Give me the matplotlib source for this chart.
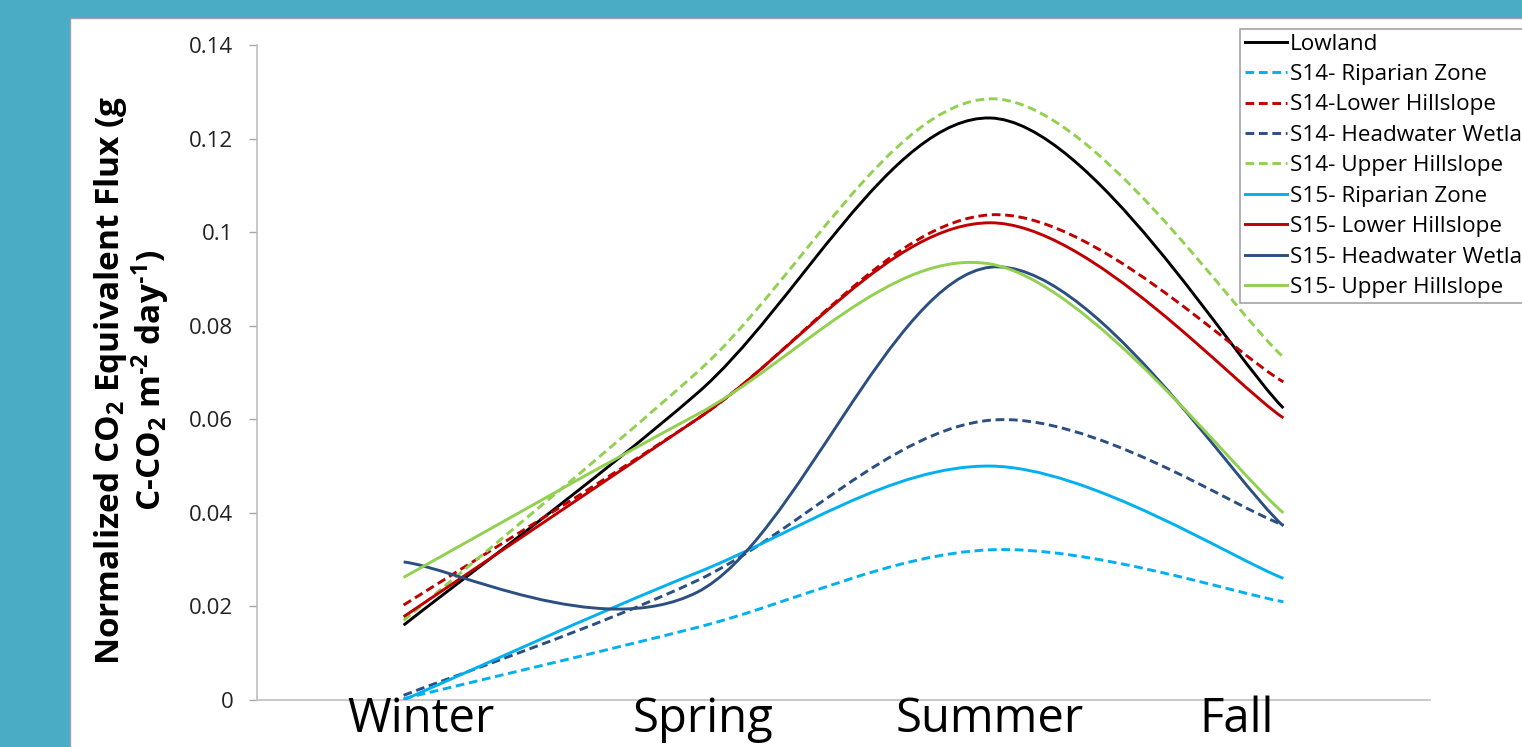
import numpy as np
import matplotlib
matplotlib.use("Agg")
import matplotlib.pyplot as plt
from matplotlib.path import Path
from matplotlib.patches import PathPatch, Rectangle
from matplotlib.lines import Line2D

plt.rcParams['font.family'] = ['Open Sans', 'DejaVu Sans']
plt.rcParams['mathtext.fontset'] = 'custom'
plt.rcParams['mathtext.rm'] = 'Open Sans'
plt.rcParams['mathtext.bf'] = 'Open Sans:bold'

# data
seasons = ['Winter', 'Spring', 'Summer', 'Fall']
lowland = [0.0160, 0.0655, 0.1244, 0.0624]
s14_riparian = [0.0003, 0.0155, 0.0321, 0.0210]
s14_lower = [0.0203, 0.0600, 0.1037, 0.0680]
s14_headwater = [0.0010, 0.0255, 0.0598, 0.0374]
s14_upper = [0.0170, 0.0700, 0.1285, 0.0733]
s15_riparian = [0.0000, 0.0272, 0.0500, 0.0260]
s15_lower = [0.0178, 0.0600, 0.1020, 0.0603]
s15_headwater = [0.0295, 0.0230, 0.0925, 0.0372]
s15_upper = [0.0262, 0.0610, 0.0932, 0.0400]

dash = (0, (3, 1.6))
series = [
    ('Lowland', lowland, 'black', '-'),
    ('S14- Riparian Zone', s14_riparian, '#00B0F0', dash),
    ('S14-Lower Hillslope', s14_lower, '#C00000', dash),
    ('S14- Headwater Wetland', s14_headwater, '#2B4F81', dash),
    ('S14- Upper Hillslope', s14_upper, '#92D050', dash),
    ('S15- Riparian Zone', s15_riparian, '#00B0F0', '-'),
    ('S15- Lower Hillslope', s15_lower, '#C00000', '-'),
    ('S15- Headwater Wetland', s15_headwater, '#2B4F81', '-'),
    ('S15- Upper Hillslope', s15_upper, '#92D050', '-'),
]


def smooth_path(xs, ys):
    # Excel-style smoothed line: cubic Bezier segments through the points
    p = np.column_stack([xs, ys])
    n = len(p)
    verts = [p[0]]
    codes = [Path.MOVETO]
    for i in range(n - 1):
        prev = p[max(i - 1, 0)]
        nxt = p[min(i + 2, n - 1)]
        c1 = p[i] + (p[i + 1] - prev) / 6
        c2 = p[i + 1] - (nxt - p[i]) / 6
        verts += [c1, c2, p[i + 1]]
        codes += [Path.CURVE4] * 3
    return Path(verts, codes)


W, H = 1522, 747
fig = plt.figure(figsize=(W / 100, H / 100), dpi=100)
fig.patch.set_facecolor('#4BACC6')
fig.patches.append(Rectangle((70 / W, -0.05), 1.0, 1 - 18 / H + 0.05,
                             transform=fig.transFigure, facecolor='white',
                             edgecolor='#A0A0A0', lw=1, zorder=-5))

ax = fig.add_axes([257 / W, 1 - 700 / H, (1430 - 257) / W, (700 - 45) / H])
ax.set_facecolor('none')
ax.set_zorder(2)

xpos = np.arange(len(seasons)) + 0.5
handles = []
for name, vals, color, ls in series:
    patch = PathPatch(smooth_path(xpos, vals), fill=False, edgecolor=color,
                      lw=2.1, linestyle=ls, capstyle='butt', zorder=3)
    ax.add_patch(patch)
    handles.append(Line2D([], [], color=color, lw=2.1, linestyle=ls))

ax.set_xlim(0, 4)
ax.set_ylim(0, 0.14)
ax.set_yticks(np.arange(0, 0.141, 0.02))
ax.set_yticklabels(['0', '0.02', '0.04', '0.06', '0.08', '0.1', '0.12', '0.14'])
ax.tick_params(axis='y', length=6, width=1, color='#A6A6A6', pad=11,
               labelsize=16, labelcolor='#222222')
ax.set_xticks([])
for s in ['top', 'right']:
    ax.spines[s].set_visible(False)
for s in ['left', 'bottom']:
    ax.spines[s].set_color('#BFBFBF')
    ax.spines[s].set_linewidth(1.2)

# season labels (placed like the original text boxes)
label_x = [0.56, 1.52, 2.5, 3.34]
for lx, lab in zip(label_x, seasons):
    ax.text(lx, -0.049, lab, transform=ax.get_xaxis_transform(),
            ha='center', va='baseline', fontsize=34, color='black')

fig.text(132 / W, 1 - 380 / H,
         'Normalized CO$\\mathbf{_2}$ Equivalent Flux (g\n'
         'C-CO$\\mathbf{_2}$ m$\\mathbf{^{\u20102}}$ day$\\mathbf{^{\u20101}}$)',
         rotation=90, ha='center', va='center', fontsize=24,
         fontweight='bold', linespacing=1.0)

leg = fig.legend(handles, [s[0] for s in series], loc='upper left',
                 bbox_to_anchor=(1240 / W, 1 - 29 / H), borderaxespad=0,
                 fontsize=16.2, frameon=True, fancybox=False,
                 handlelength=1.9, handletextpad=0.1, labelspacing=0.42,
                 borderpad=0.2)
leg.get_frame().set_edgecolor('#8C8C8C')
leg.get_frame().set_linewidth(1.2)

fig.savefig('out.png', dpi=100, facecolor=fig.get_facecolor())
